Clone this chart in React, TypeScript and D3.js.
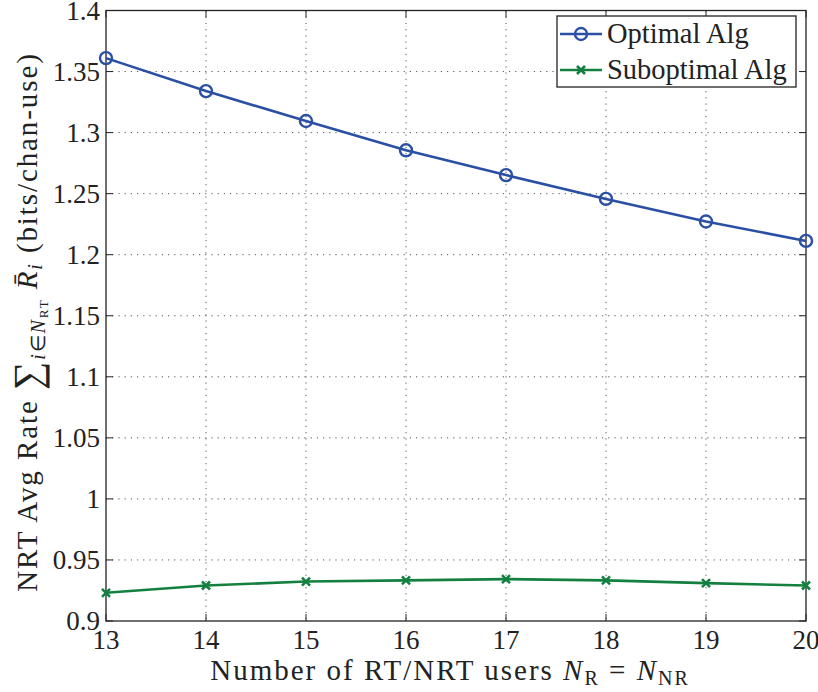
import React from "react";
import * as d3 from "d3";

const users = [13, 14, 15, 16, 17, 18, 19, 20];
const optimal = [1.361, 1.334, 1.3095, 1.2855, 1.2652, 1.2457, 1.2272, 1.2113];
const suboptimal = [0.9231, 0.9291, 0.9323, 0.9333, 0.9343, 0.9333, 0.931, 0.9291];
const yTicks = [0.9, 0.95, 1, 1.05, 1.1, 1.15, 1.2, 1.25, 1.3, 1.35, 1.4];
const yTickLabels = ["0.9", "0.95", "1", "1.05", "1.1", "1.15", "1.2", "1.25", "1.3", "1.35", "1.4"];
const seriesNames = ["Optimal Alg", "Suboptimal Alg"];

const W = 818, H = 692;
const L = 106, R = 806, T = 10.5, B = 621;
const BLUE = "#2a4fa3";
const GREEN = "#13803f";
const FONT = "'Liberation Serif', 'Times New Roman', serif";

export default function App() {
  const x = d3.scaleLinear().domain([13, 20]).range([L, R]);
  const y = d3.scaleLinear().domain([0.9, 1.4]).range([B, T]);
  const line = d3.line<number>().x((_, i) => x(users[i])).y((d) => y(d));

  const xMark = (cx: number, cy: number, s: number, key: string, color: string) => (
    <path key={key} d={`M${cx - s},${cy - s}L${cx + s},${cy + s}M${cx - s},${cy + s}L${cx + s},${cy - s}`} stroke={color} strokeWidth={2.6} fill="none" />
  );

  return (
    <div style={{ position: "absolute", left: 0, top: 0 }}>
      <svg width={W} height={H} style={{ display: "block", background: "#fff" }} fontFamily={FONT}>
        <rect x={0} y={0} width={W} height={H} fill="#fff" />
        {/* grid */}
        {users.slice(1, -1).map((u) => (
          <line key={"gx" + u} x1={x(u)} x2={x(u)} y1={T} y2={B} stroke="#555" strokeWidth={1} strokeDasharray="1.2,5" />
        ))}
        {yTicks.slice(1, -1).map((t) => (
          <line key={"gy" + t} x1={L} x2={R} y1={y(t)} y2={y(t)} stroke="#555" strokeWidth={1} strokeDasharray="1.2,5" />
        ))}
        {/* ticks */}
        {users.map((u) => (
          <g key={"tx" + u}>
            <line x1={x(u)} x2={x(u)} y1={B} y2={B - 7} stroke="#222" strokeWidth={1} />
            <line x1={x(u)} x2={x(u)} y1={T} y2={T + 7} stroke="#222" strokeWidth={1} />
            <text x={x(u)} y={649} textAnchor="middle" fontSize={27} fill="#222">{u}</text>
          </g>
        ))}
        {yTicks.map((t, i) => (
          <g key={"ty" + t}>
            <line x1={L} x2={L + 7} y1={y(t)} y2={y(t)} stroke="#222" strokeWidth={1} />
            <line x1={R} x2={R - 7} y1={y(t)} y2={y(t)} stroke="#222" strokeWidth={1} />
            <text x={100} y={y(t)} dy="0.34em" textAnchor="end" fontSize={27} fill="#222">{yTickLabels[i]}</text>
          </g>
        ))}
        <rect x={L} y={T} width={R - L} height={B - T} fill="none" stroke="#222" strokeWidth={1.3} />
        {/* series */}
        <path d={line(optimal) || ""} fill="none" stroke={BLUE} strokeWidth={2.6} />
        {optimal.map((v, i) => (
          <circle key={"o" + i} cx={x(users[i])} cy={y(v)} r={6} fill="none" stroke={BLUE} strokeWidth={2.4} />
        ))}
        <path d={line(suboptimal) || ""} fill="none" stroke={GREEN} strokeWidth={2.6} />
        {suboptimal.map((v, i) => xMark(x(users[i]), y(v), 4, "s" + i, GREEN))}
        {/* legend */}
        <rect x={557} y={16} width={239} height={71} fill="#fff" stroke="#222" strokeWidth={1.3} />
        <line x1={560} x2={602} y1={34} y2={34} stroke={BLUE} strokeWidth={2.6} />
        <circle cx={581} cy={34} r={6} fill="none" stroke={BLUE} strokeWidth={2.4} />
        <text x={607} y={43} fontSize={28.5} fill="#222">{seriesNames[0]}</text>
        <line x1={560} x2={602} y1={70} y2={70} stroke={GREEN} strokeWidth={2.6} />
        {xMark(581, 70, 4, "lg", GREEN)}
        <text x={607} y={79} fontSize={28.5} fill="#222">{seriesNames[1]}</text>
        {/* x label */}
        <text x={450} y={680} textAnchor="middle" fontSize={29} letterSpacing={2} fill="#222">
          <tspan>Number of RT/NRT users </tspan>
          <tspan fontStyle="italic">N</tspan>
          <tspan fontSize={20} dy={5}>R</tspan>
          <tspan dy={-5}> = </tspan>
          <tspan fontStyle="italic">N</tspan>
          <tspan fontSize={20} dy={5}>NR</tspan>
        </text>
        {/* y label */}
        <text transform={`translate(37,322) rotate(-90)`} textAnchor="middle" fontSize={29} letterSpacing={1.9} fill="#222">
          <tspan>NRT Avg Rate </tspan>
          <tspan fontSize={40} dy={4}>∑</tspan>
          <tspan fontSize={20} fontStyle="italic" dy={4}>i</tspan>
          <tspan fontSize={20}>∈</tspan>
          <tspan fontSize={20} fontStyle="italic">N</tspan>
          <tspan fontSize={13} dy={3}>RT</tspan>
          <tspan dy={-11}> </tspan>
          <tspan fontStyle="italic">R̄</tspan>
          <tspan fontSize={20} fontStyle="italic" dy={5}>i</tspan>
          <tspan dy={-5}>  (bits/chan-use)</tspan>
        </text>
      </svg>
    </div>
  );
}
